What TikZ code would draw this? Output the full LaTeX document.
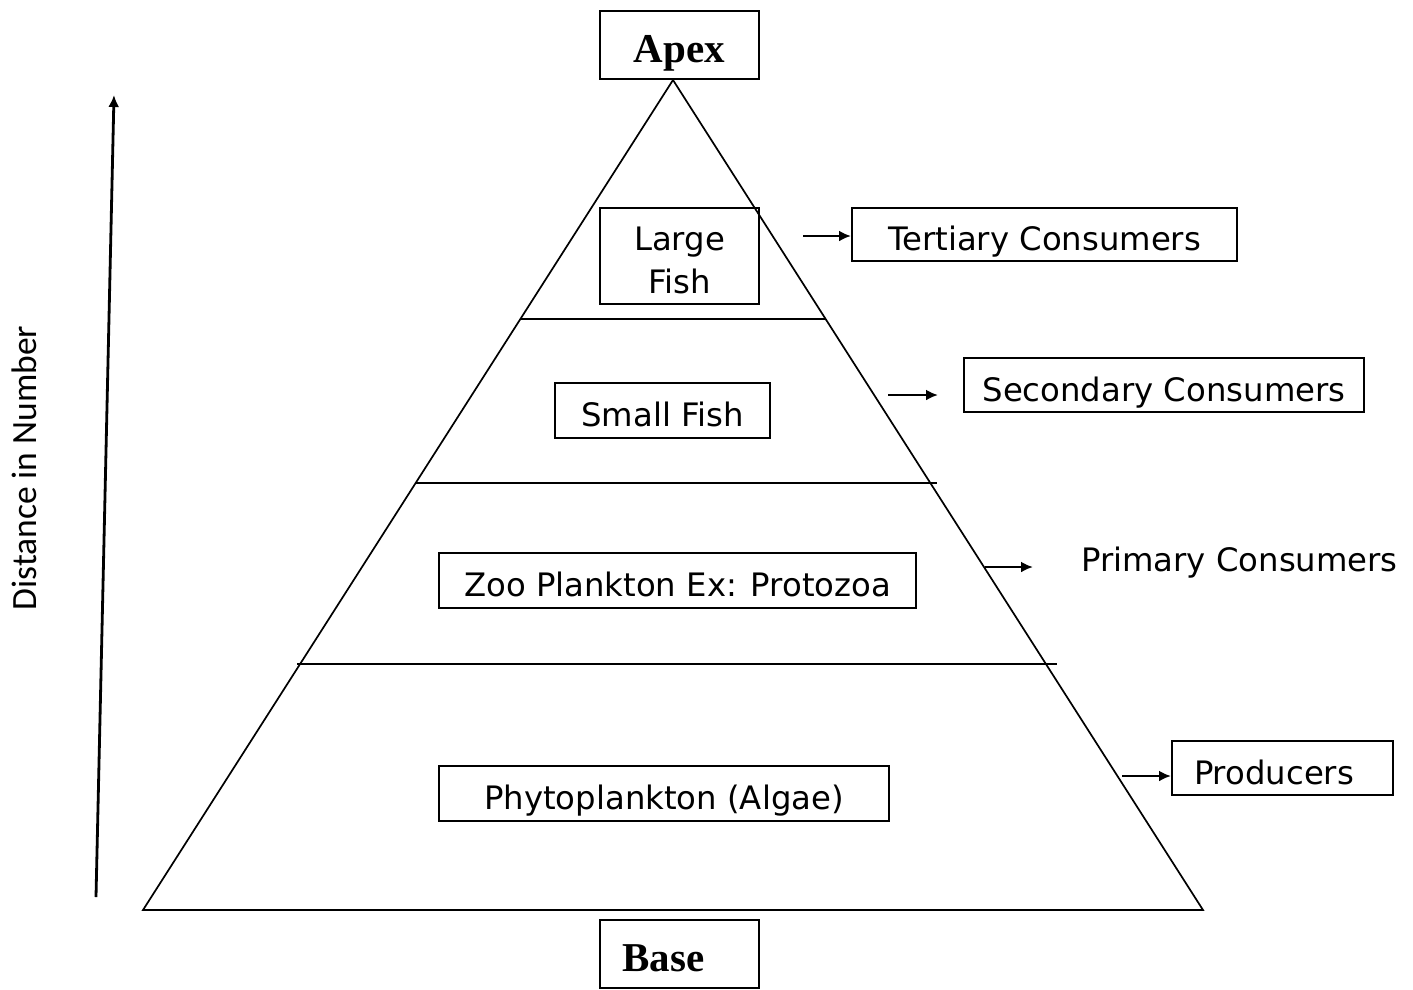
\documentclass[tikz,border=0pt]{standalone}
\usepackage{fontspec}
\setmainfont{DejaVu Sans}
\newfontfamily\serifbold{Liberation Serif}
\newfontfamily\calibrif{Carlito}
\usetikzlibrary{arrows.meta}
\begin{document}
\begin{tikzpicture}[x=1pt,y=-1pt,
  lab/.style={font=\fontsize{32.3}{43}\selectfont, inner sep=0pt},
  box/.style={lab, draw, line width=2pt, anchor=center, text height=32pt, text depth=0pt},
  endbox/.style={draw, line width=2pt, inner sep=0pt, font=\serifbold\bfseries\fontsize{41}{46}\selectfont,
     minimum width=159pt, minimum height=68pt, text height=34pt, text depth=0pt},
  edge/.style={line width=1.7pt},
  tier/.style={line width=2pt},
  arr/.style={line width=2.8pt, -{Latex[length=12pt,width=11pt]}}]
\useasboundingbox (0,0) rectangle (1413,989);
% pyramid
\coordinate (top) at (673,80);
\coordinate (bl) at (143,910);
\coordinate (br) at (1203,910);
\draw[edge] (bl) -- (top) -- (br) -- cycle;
\coordinate (t1a) at (520,319);  \coordinate (t1b) at (825,319);
\coordinate (t2a) at (415,483);  \coordinate (t2b) at (937,483);
\coordinate (t3a) at (297,664);  \coordinate (t3b) at (1057,664);
\draw[tier] (t1a) -- (t1b);
\draw[tier] (t2a) -- (t2b);
\draw[tier] (t3a) -- (t3b);
% end boxes
\node[endbox] (apex) at (679.5,45) {Apex};
\node[endbox] (base) at (679.5,954) {Base\hspace*{32pt}};
% level boxes
\node[box, minimum width=159pt, minimum height=96pt, align=center, text height=74pt, text depth=0pt] (large) at (679.5,256) {Large\\Fish};
\node[box, minimum width=215pt, minimum height=55pt] (small) at (662.5,410.5) {Small Fish};
\node[box, minimum width=477pt, minimum height=55pt] (zoo) at (677.5,580.5) {Zoo Plankton Ex: Protozoa};
\node[box, minimum width=450pt, minimum height=55pt] (phyto) at (664,793.5) {Phytoplankton (Algae)};
% labels
\node[box, minimum width=385pt, minimum height=53pt] (tert) at (1044.5,234.5) {Tertiary Consumers};
\node[box, minimum width=400pt, minimum height=54pt] (sec) at (1164,385) {Secondary Consumers};
\node[lab, anchor=base west] (prim) at (1081,571) {Primary Consumers};
\node[box, minimum width=221pt, minimum height=54pt] (prod) at (1282.5,768) {Producers\hspace*{17pt}};
% arrows
\coordinate (a1) at (803,236);
\coordinate (a2) at (888,395); \coordinate (a2e) at (938,395);
\coordinate (a3) at (985,567); \coordinate (a3e) at (1033,567);
\coordinate (a4) at (1122,776);
\draw[arr] (a1) -- (a1 -| tert.west);
\draw[arr] (a2) -- (a2e);
\draw[arr] (a3) -- (a3e);
\draw[arr] (a4) -- (a4 -| prod.west);
% side arrow
\coordinate (s0) at (96,897);
\coordinate (s1) at (114,95);
\draw[arr] (s0) -- (s1);
\node[rotate=90, font=\calibrif\fontsize{35.5}{40}\selectfont, inner sep=0pt] (dist) at (24,468) {Distance in Number};
\end{tikzpicture}
\end{document}
